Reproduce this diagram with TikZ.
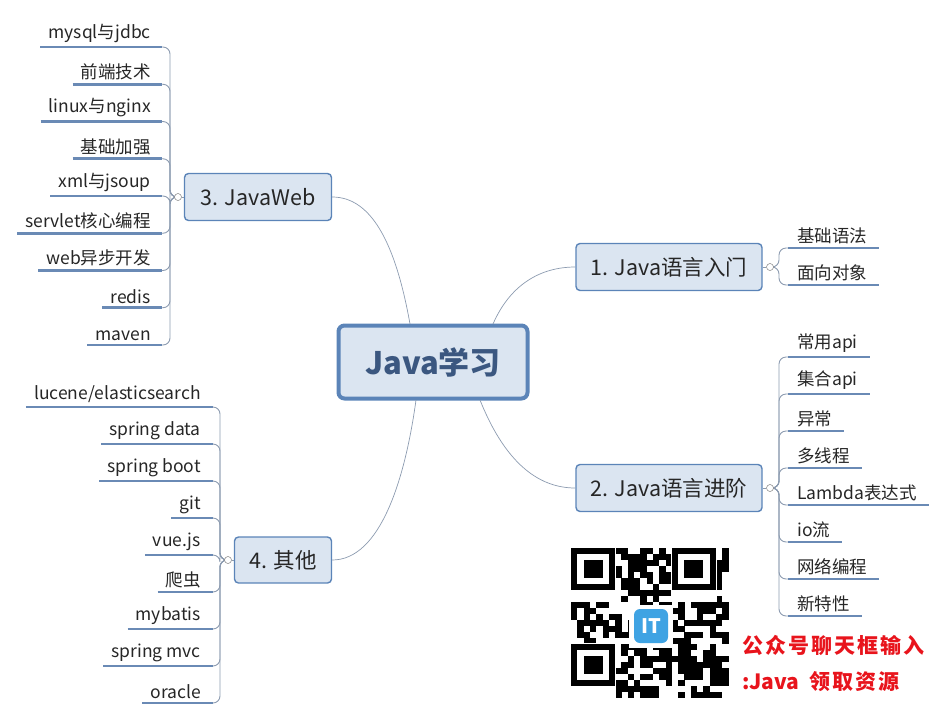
\documentclass[tikz,border=0pt]{standalone}
\usepackage{fontspec}
\setmainfont{Noto Sans CJK SC}
\definecolor{bfill}{HTML}{DBE5F1}
\definecolor{bline}{HTML}{5B84B8}
\definecolor{uline}{HTML}{6A8AB5}
\definecolor{spc}{HTML}{8C9BB0}
\definecolor{ctext}{HTML}{3B5780}
\definecolor{rtext}{HTML}{E8141C}
\definecolor{logoc}{HTML}{3FA3E3}
\begin{document}
\begin{tikzpicture}[x=1pt,y=-1pt,
  conn/.style={draw=spc,line width=0.7pt},
  spine/.style={draw=spc,line width=0.9pt,rounded corners=7pt},
  uln/.style={draw=uline,line width=2.6pt},
  leaf/.style={inner xsep=0pt,inner ysep=4pt,font=\fontsize{17.5}{17.5}\selectfont,text=black!85},
  branch/.style={draw=bline,line width=1.4pt,fill=bfill,rounded corners=4pt,font=\fontsize{21.5}{21.5}\selectfont,text=black!85,inner sep=0pt},
  tog/.style={circle,draw=gray,fill=white,inner sep=0pt,minimum size=7pt,line width=0.5pt},
  qr/.style={fill=black}]
\useasboundingbox (0,0) rectangle (943,724);
% central
\node[draw=bline,line width=4pt,fill=bfill,rounded corners=6pt,minimum width=189pt,minimum height=73pt,font=\fontsize{31}{31}\bfseries\selectfont,text=ctext] (root) at (433,362) {Java学习};
% branches
\node[branch,minimum width=147pt,minimum height=47pt] (b3) at (258,197) {3. JavaWeb};
\node[branch,minimum width=97pt,minimum height=46pt] (b4) at (283,560) {4. 其他};
\node[branch,minimum width=186pt,minimum height=47pt] (b1) at (669,267) {1. Java语言入门};
\node[branch,minimum width=186pt,minimum height=47pt] (b2) at (669,488) {2. Java语言进阶};
\draw[conn] (410,324) .. controls (395,240) and (370,197) .. (b3.east);
\draw[conn] (493,324) .. controls (510,285) and (540,267) .. (b1.west);
\draw[conn] (416,400) .. controls (405,480) and (380,560) .. (b4.east);
\draw[conn] (480,400) .. controls (500,450) and (530,488) .. (b2.west);
% group 3
\coordinate (s3) at (170,197);
\foreach \t [count=\i] in {mysql与jdbc,前端技术,linux与nginx,基础加强,xml与jsoup,servlet核心编程,web异步开发,redis,maven}{
  \pgfmathsetmacro\yy{47+37.25*(\i-1)}
  \node[leaf,anchor=south east] (l3-\i) at (151,\yy) {\t};
  \draw[uln] ([xshift=-8pt]l3-\i.south west) -- (162,\yy);
  \draw[spine] (178,197) -- (s3) -- (170,\yy) -- (162,\yy);
}
\node[tog] (t3) at (178,197) {};
\draw[conn] (t3) -- (b3.west);
% group 4
\foreach \t [count=\i] in {lucene/elasticsearch,spring data,spring boot,git,vue.js,爬虫,mybatis,spring mvc,oracle}{
  \pgfmathsetmacro\yy{407+37*(\i-1)}
  \node[leaf,anchor=south east] (l4-\i) at (201,\yy) {\t};
  \draw[uln] ([xshift=-8pt]l4-\i.south west) -- (213,\yy);
  \draw[spine] (228,560) -- (220,560) -- (220,\yy) -- (213,\yy);
}
\node[tog] (t4) at (228,560) {};
\draw[conn] (t4) -- (b4.west);
% group 1
\foreach \t [count=\i] in {基础语法,面向对象}{
  \pgfmathsetmacro\yy{248+37*(\i-1)}
  \node[leaf,anchor=south west] (l1-\i) at (797,\yy) {\t};
  \draw[uln] (788,\yy) -- ([xshift=12pt]l1-\i.south east);
  \draw[spine] (770,267) -- (779,267) -- (779,\yy) -- (788,\yy);
}
\node[tog] (t1) at (770,267) {};
\draw[conn] (b1.east) -- (t1);
% group 2
\foreach \t [count=\i] in {常用api,集合api,异常,多线程,Lambda表达式,io流,网络编程,新特性}{
  \pgfmathsetmacro\yy{357+37*(\i-1)}
  \node[leaf,anchor=south west] (l2-\i) at (797,\yy) {\t};
  \draw[uln] (788,\yy) -- ([xshift=12pt]l2-\i.south east);
  \draw[spine] (770,488) -- (779,488) -- (779,\yy) -- (788,\yy);
}
\node[tog] (t2) at (770,488) {};
\draw[conn] (b2.east) -- (t2);
% QR-like code
\pgfmathsetseed{11}
\foreach \r in {0,...,24}{
  \foreach \c in {0,...,24}{
    \pgfmathsetmacro\rv{rnd}
    \ifdim\rv pt<0.55pt \fill[qr] (571+\c*6.3,548+\r*6) rectangle ++(6.4,6.1); \fi
  }
}
\foreach \px/\py in {571/548,671.8/548,571/644}{
  \fill[white] (\px-1,\py-1) rectangle ++(46.4,55);
  \fill[black] (\px,\py) rectangle ++(44.1,42);
  \fill[white] (\px+6.3,\py+6) rectangle ++(31.5,30);
  \fill[black] (\px+12.6,\py+12) rectangle ++(18.9,18);
}
\fill[white] (629,605) rectangle (673,648);
\node[rounded corners=6pt,fill=logoc,minimum size=34pt,inner sep=0pt,font=\fontsize{20}{20}\bfseries\selectfont,text=white] (logo) at (651,626) {IT};
% red text
\node[anchor=west,text=rtext,font=\fontsize{21}{21}\bfseries\selectfont,inner sep=0pt] (r1) at (742,645) {公\kern2pt 众\kern2pt 号\kern2pt 聊\kern2pt 天\kern2pt 框\kern2pt 输\kern2pt 入};
\node[anchor=west,text=rtext,font=\fontsize{21}{21}\bfseries\selectfont,inner sep=0pt] (r2) at (742,682) {:Java\ \ 领\kern2pt 取\kern2pt 资\kern2pt 源};
\end{tikzpicture}
\end{document}
